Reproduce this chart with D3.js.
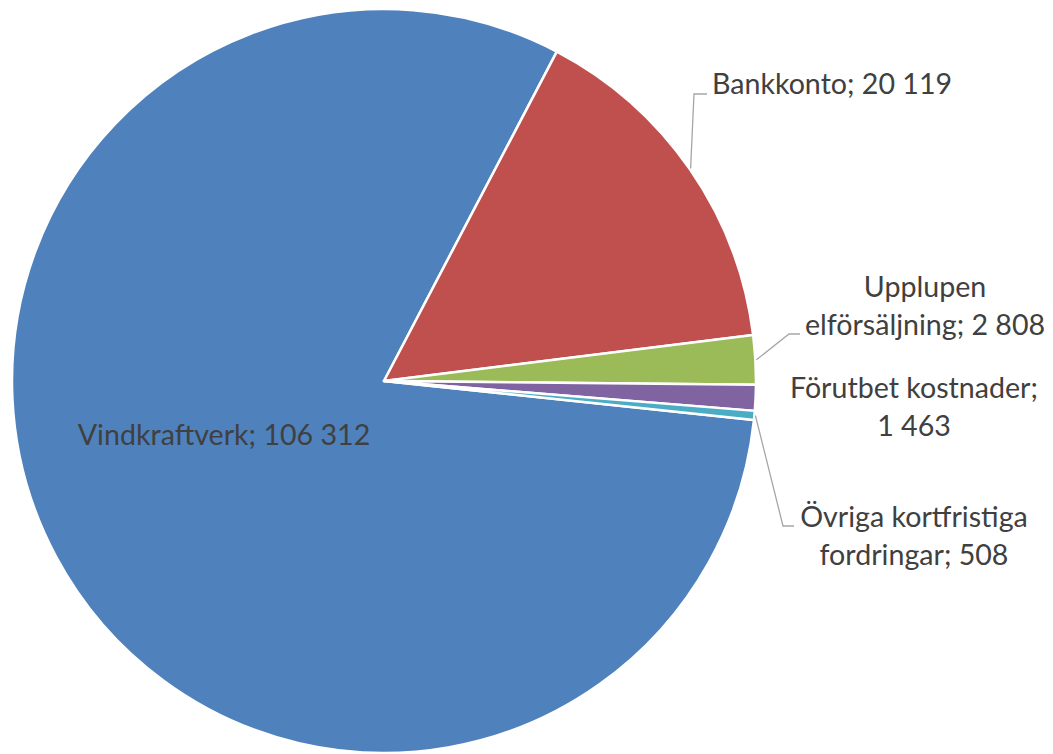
<!DOCTYPE html>
<html>
<head>
<meta charset="utf-8">
<title>Tillgångar</title>
<script src="https://cdn.jsdelivr.net/npm/d3@7"></script>
<style>
  body { margin: 0; background: #fff; }
  .lbl { font-family: Lato, "Open Sans", sans-serif; font-size: 28.6px; fill: #404040; }
  .leader { fill: none; stroke: #a6a6a6; stroke-width: 1.3px; }
</style>
</head>
<body>
<script>
// data
var categories = ["Vindkraftverk", "Bankkonto", "Upplupen elförsäljning", "Förutbet kostnader", "Övriga kortfristiga fordringar"];
var values = [106312, 20119, 2808, 1463, 508];
var valueLabels = ["106 312", "20 119", "2 808", "1 463", "508"];
var colors = ["#4f81bd", "#c0504d", "#9bbb59", "#8064a2", "#4bacc6"];

// label layout: lines, anchor, x, first baseline, optional elbow for leader
var labelLayout = [
  {lines: ["Vindkraftverk; 106 312"], anchor: "middle", x: 224, y: 445},
  {lines: ["Bankkonto; 20 119"], anchor: "start", x: 712, y: 94, elbow: [694, 94], end: [707, 94]},
  {lines: ["Upplupen", "elförsäljning; 2 808"], anchor: "middle", x: 925, y: 297, elbow: [789, 334], end: [800, 334]},
  {lines: ["Förutbet kostnader;", "1 463"], anchor: "middle", x: 914, y: 398},
  {lines: ["Övriga kortfristiga", "fordringar; 508"], anchor: "middle", x: 914, y: 527, elbow: [783, 526], end: [794, 526]}
];

var width = 1053, height = 754;
var cx = 384, cy = 381, radius = 372;
var startDeg = 96;

var svg = d3.select("body").append("svg")
    .attr("width", width)
    .attr("height", height);

var pie = d3.pie()
    .sort(null)
    .startAngle(startDeg * Math.PI / 180)
    .endAngle(startDeg * Math.PI / 180 + 2 * Math.PI);

var arcs = pie(values);

var arc = d3.arc().innerRadius(0).outerRadius(radius);

var g = svg.append("g").attr("transform", "translate(" + cx + "," + cy + ")");

g.selectAll("path.slice")
    .data(arcs)
    .enter().append("path")
    .attr("class", "slice")
    .attr("d", arc)
    .attr("fill", function (d, i) { return colors[i]; })
    .attr("stroke", "#fff")
    .attr("stroke-width", 2.5)
    .attr("stroke-linejoin", "round");

// leader lines
arcs.forEach(function (d, i) {
    var lay = labelLayout[i];
    if (!lay.elbow) return;
    var a = (d.startAngle + d.endAngle) / 2;
    var sx = cx + Math.sin(a) * (radius + 1);
    var sy = cy - Math.cos(a) * (radius + 1);
    svg.append("polyline")
        .attr("class", "leader")
        .attr("points", [[sx, sy], lay.elbow, lay.end].map(function (p) { return p.join(","); }).join(" "));
});

// labels
labelLayout.forEach(function (lay) {
    var t = svg.append("text")
        .attr("class", "lbl")
        .attr("text-anchor", lay.anchor);
    lay.lines.forEach(function (line, k) {
        t.append("tspan")
            .attr("x", lay.x)
            .attr("y", lay.y + k * 38)
            .text(line);
    });
});
</script>
</body>
</html>
